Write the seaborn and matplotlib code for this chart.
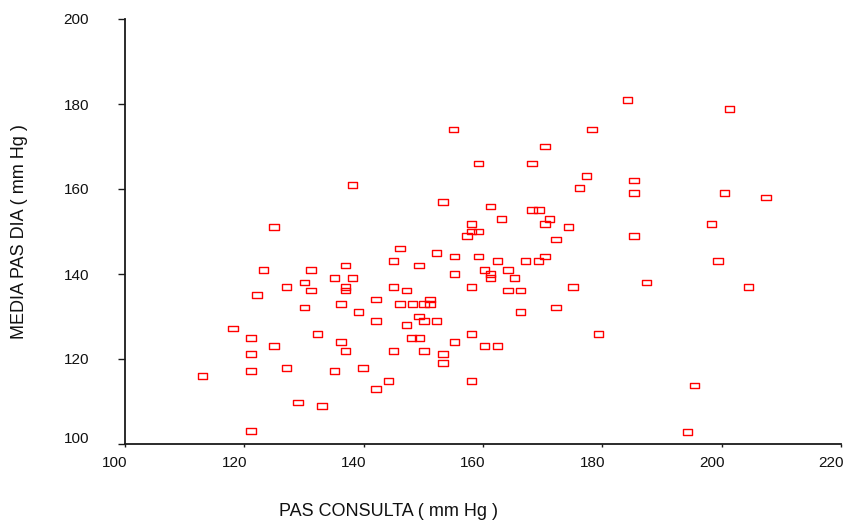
import numpy as np
import pandas as pd
import matplotlib
matplotlib.use("Agg")
import matplotlib.pyplot as plt
from matplotlib.path import Path
from matplotlib.markers import MarkerStyle
from matplotlib.transforms import ScaledTranslation
import seaborn as sns

# Office systolic pressure vs. mean daytime ambulatory systolic pressure (mm Hg)
pas_consulta = [
    138.1, 125.0, 123.2, 131.2, 137.0, 135.1, 138.1, 127.1, 130.1, 131.2,
    137.0, 137.0, 122.1, 130.1, 136.2, 139.1, 118.1, 121.1, 132.3, 125.0,
    136.2, 137.0, 121.1, 127.1, 121.1, 135.1, 113.0, 139.9, 129.0, 133.0,
    121.1, 153.3, 161.3, 163.1, 158.1, 158.1, 159.2, 157.3, 146.1, 152.2,
    155.2, 159.2, 145.0, 149.3, 162.4, 160.3, 164.2, 161.3, 155.2, 161.3,
    165.3, 145.0, 147.2, 158.1, 164.2, 166.3, 142.1, 146.1, 148.2, 150.1,
    151.1, 151.1, 142.1, 149.3, 147.2, 150.1, 152.2, 148.0, 149.4, 158.1,
    155.2, 160.3, 162.4, 145.0, 150.1, 153.3, 153.3, 144.2, 158.1, 142.1,
    184.2, 155.1, 178.3, 170.4, 159.2, 168.2, 177.3, 185.3, 176.2, 185.3,
    168.2, 169.4, 171.1, 170.4, 174.3, 172.2, 185.3, 170.4, 167.1, 169.3,
    175.1, 187.4, 172.2, 166.3, 179.4, 201.3, 200.5, 207.4, 198.3, 199.4,
    204.5, 195.4, 194.3,
]
media_pas_dia = [
    160.9, 151.0, 140.9, 140.9, 142.0, 139.0, 139.0, 136.9, 138.0, 136.1,
    137.0, 136.1, 135.0, 132.1, 132.9, 131.0, 127.2, 124.9, 125.9, 123.0,
    124.0, 121.9, 121.1, 117.9, 117.1, 117.1, 116.0, 117.9, 109.8, 109.0,
    103.0, 156.9, 155.9, 152.9, 151.8, 150.0, 150.0, 148.9, 146.0, 144.9,
    144.1, 144.1, 143.1, 142.0, 143.1, 140.9, 140.9, 140.0, 140.0, 139.0,
    139.0, 136.9, 136.1, 136.9, 136.1, 136.1, 134.0, 132.9, 132.9, 132.9,
    134.0, 132.9, 128.9, 130.0, 128.0, 128.9, 128.9, 124.9, 124.9, 125.9,
    124.0, 123.0, 123.0, 121.9, 121.9, 121.1, 119.0, 114.9, 114.9, 113.0,
    181.0, 174.0, 174.0, 170.0, 166.0, 166.0, 163.1, 162.0, 160.3, 159.1,
    155.1, 155.1, 152.9, 151.8, 151.1, 148.1, 148.9, 144.1, 143.1, 143.1,
    136.9, 138.0, 132.1, 131.0, 125.9, 178.9, 159.1, 158.0, 151.8, 143.1,
    136.9, 113.8, 102.9,
]

x_ticks = [100, 120, 140, 160, 180, 200, 220]
y_ticks = [100, 120, 140, 160, 180, 200]

df = pd.DataFrame({"PAS CONSULTA": pas_consulta, "MEDIA PAS DIA": media_pas_dia})

sns.set_theme(style="white")
plt.rcParams["font.family"] = ["Liberation Sans", "DejaVu Sans"]

fig = plt.figure(figsize=(8.53, 5.24), dpi=100)
ax = fig.add_axes([125 / 853, 1 - 444 / 524, 716 / 853, 425 / 524])

# open horizontal rectangle marker
rect = Path([(-1, -0.6), (1, -0.6), (1, 0.6), (-1, 0.6), (-1, -0.6)],
            [Path.MOVETO, Path.LINETO, Path.LINETO, Path.LINETO, Path.CLOSEPOLY])
sns.scatterplot(data=df, x="PAS CONSULTA", y="MEDIA PAS DIA", ax=ax,
                marker=MarkerStyle(rect), s=46, linewidth=1.0,
                facecolor="none", edgecolor="#ff0000", legend=False)
for coll in ax.collections:
    coll.set_facecolor("none")
    coll.set_edgecolor("#ff0000")
    coll.set_linewidth(1.0)

ax.set_xlim(100, 220)
ax.set_ylim(100, 200)
ax.set_xticks(x_ticks)
ax.set_yticks(y_ticks)
ax.set_xticklabels([str(v) for v in x_ticks])
ax.set_yticklabels([str(v) for v in y_ticks])

for side in ("top", "right"):
    ax.spines[side].set_visible(False)
for side in ("left", "bottom"):
    ax.spines[side].set_color("#1a1a1a")
    ax.spines[side].set_linewidth(1.3)

ax.tick_params(axis="y", direction="out", length=5, width=1, color="#1a1a1a",
               left=True, pad=21, labelsize=11, labelcolor="#111111")
ax.tick_params(axis="x", direction="out", length=2.5, width=1, color="#1a1a1a",
               bottom=True, pad=6, labelsize=11, labelcolor="#111111")

# x tick labels sit just left of their ticks
shift = ScaledTranslation(2 / 72, 0, fig.dpi_scale_trans)
for lab in ax.get_xticklabels():
    lab.set_ha("right")
    lab.set_transform(lab.get_transform() + shift)
# lift the lowest y label clear of the x axis labels
ylabs = ax.get_yticklabels()
ylabs[0].set_transform(ylabs[0].get_transform() + ScaledTranslation(0, 5 / 72, fig.dpi_scale_trans))

ax.set_xlabel("PAS CONSULTA ( mm Hg )", fontsize=13, color="#111111")
ax.set_ylabel("MEDIA PAS DIA ( mm Hg )", fontsize=13, color="#111111")
ax.xaxis.set_label_coords((389 - 125) / 716, -(511 - 444) / 425)
ax.xaxis.label.set_va("center")
ax.yaxis.set_label_coords(-(125 - 20) / 716, 0.5)
ax.yaxis.label.set_va("center")

ax.grid(False)
fig.savefig("out.png", dpi=100, facecolor="white")
